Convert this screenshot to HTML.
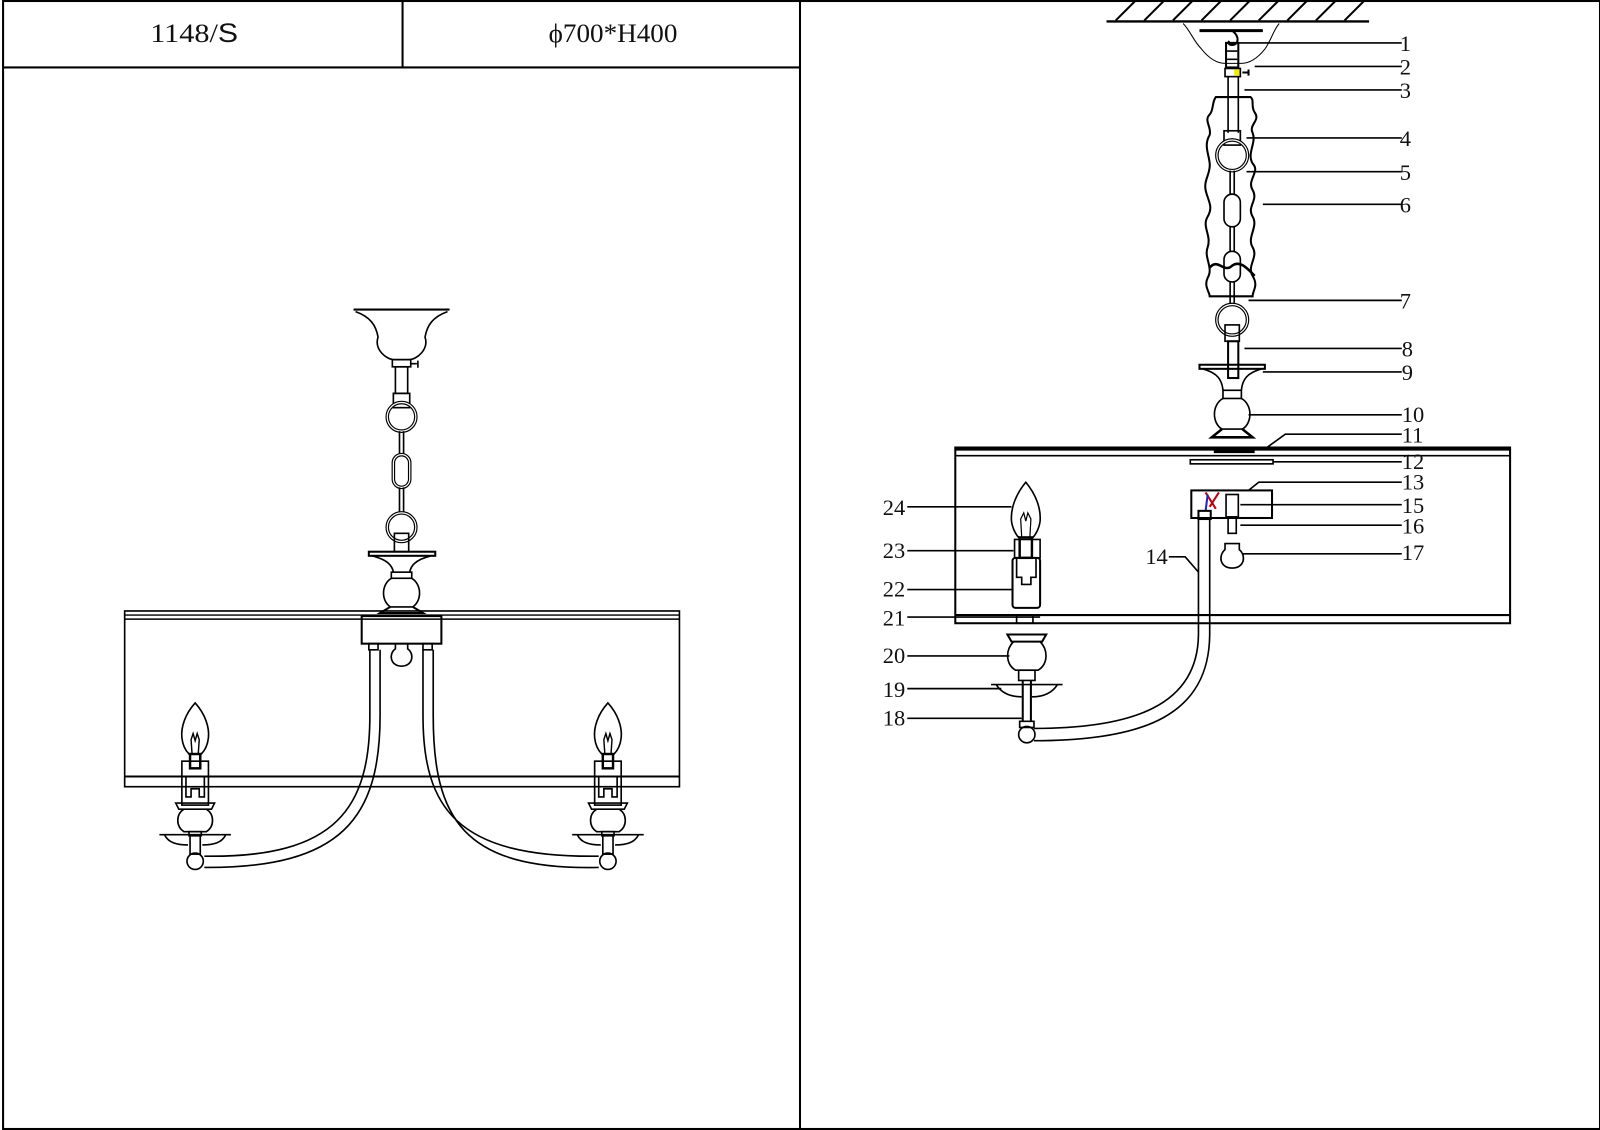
<!DOCTYPE html>
<html><head><meta charset="utf-8"><style>
html,body{margin:0;padding:0;background:#fff}
svg{display:block}
text{font-family:"Liberation Serif",serif;fill:#111}
</style></head><body>
<svg width="1600" height="1130" viewBox="0 0 1566 1106" xmlns="http://www.w3.org/2000/svg">
<defs>
<g id="candle" fill="none" stroke="#000" stroke-width="1.6">
 <path d="M0,-74 C-10,-63 -14,-50 -13,-40 C-12,-31 -8,-26 -6,-24 L6,-24 C8,-26 12,-31 13,-40 C14,-50 10,-63 0,-74 Z"/>
 <path d="M-3,-24 L-4,-38 L-2,-44 L0,-37 L2,-44 L4,-38 L3,-24" stroke-width="1.4"/>
 <rect x="-5" y="-24" width="10" height="14" stroke-width="2.4"/>
 <rect x="-13" y="-17" width="26" height="43"/>
 <path d="M-9,-2 L-9,18 L-4,18 L-4,10 L4,10 L4,18 L9,18 L9,-2"/>
 <path d="M-19,24 L19,24 L16,30 L-16,30 Z"/>
 <path d="M-11,30 C-19,35 -19,47 -11,52 L11,52 C19,47 19,35 11,30"/>
 <rect x="-6" y="52" width="12" height="4"/>
 <path d="M-35,55 L35,55 M-30,55 C-26,63 -18,65 -7,65 M30,55 C26,63 18,65 7,65"/>
 <rect x="-5" y="56" width="10" height="18"/>
 <circle cx="0" cy="81" r="8"/>
</g>
</defs>
<g fill="none" stroke="#000" stroke-width="2">
 <rect x="3" y="1" width="1563" height="1104"/>
 <line x1="783" y1="1" x2="783" y2="1105"/>
 <line x1="3" y1="66" x2="783" y2="66"/>
 <line x1="394" y1="1" x2="394" y2="66"/>
</g>
<text x="190" y="41" font-size="26" text-anchor="middle" textLength="86" lengthAdjust="spacingAndGlyphs">1148/<tspan font-family="Liberation Sans">S</tspan></text>
<text x="600" y="41" font-size="26" text-anchor="middle" textLength="126" lengthAdjust="spacingAndGlyphs">ϕ700*H400</text>

<!-- LEFT DRAWING -->
<g fill="none" stroke="#000" stroke-width="1.6">
 <line x1="346" y1="303" x2="440" y2="303" stroke-width="2"/>
 <path d="M348,305 C362,310 368,318 370,330 C366,342 378,352 386,352 L400,352 C408,352 420,342 416,330 C418,318 424,310 438,305"/>
 <rect x="384" y="352" width="18" height="7"/>
 <path d="M402,356 L408,356 M409,353 L409,360"/>
 <rect x="387" y="359" width="12" height="26"/>
 <rect x="385" y="385" width="16" height="14"/>
 <circle cx="393" cy="408" r="14" stroke-width="3.5"/>
 <circle cx="393" cy="408" r="14" stroke="#fff" stroke-width="1.2"/>
 <line x1="391" y1="422" x2="391" y2="446"/><line x1="395" y1="422" x2="395" y2="446"/>
 <rect x="385" y="445" width="16" height="32" rx="8" stroke-width="3.5"/>
 <rect x="385" y="445" width="16" height="32" rx="8" stroke="#fff" stroke-width="1.2"/>
 <line x1="391" y1="477" x2="391" y2="503"/><line x1="395" y1="477" x2="395" y2="503"/>
 <circle cx="393" cy="516" r="14" stroke-width="3.5"/>
 <circle cx="393" cy="516" r="14" stroke="#fff" stroke-width="1.2"/>
 <rect x="386" y="522" width="14" height="18"/>
 <rect x="361" y="540" width="65" height="4" stroke-width="2"/>
 <path d="M364,544 C380,548 384,554 385,560 M422,544 C406,548 402,554 401,560"/>
 <rect x="383" y="560" width="20" height="6"/>
 <path d="M383,566 C373,572 373,588 382,594 L404,594 C413,588 413,572 403,566"/>
 <path d="M382,594 L372,600 L414,600 L404,594" stroke-width="2"/>
 <rect x="122" y="598" width="543" height="172"/>
 <line x1="122" y1="602" x2="665" y2="602" stroke-width="1.4"/>
 <line x1="122" y1="606" x2="665" y2="606" stroke-width="1.4"/>
 <line x1="122" y1="760" x2="665" y2="760" stroke-width="2"/>
 <rect x="354" y="603" width="78" height="27" stroke-width="2"/>
 <rect x="361" y="630" width="9" height="6"/><rect x="414" y="630" width="9" height="6"/>
 <path d="M387,630 L387,635 C380,640 382,652 393,652 C404,652 406,640 399,635 L399,630"/>
 <path d="M362,636 L362,700 C362,790 330,840 200,838"/>
 <path d="M372,636 L372,700 C372,800 335,850 200,849"/>
 <path d="M414,636 L414,700 C414,790 446,840 586,838"/>
 <path d="M424,636 L424,700 C424,800 452,852 586,849"/>
</g>
<use href="#candle" x="191" y="762"/>
<use href="#candle" x="595" y="762"/>

<!-- RIGHT DRAWING -->
<g fill="none" stroke="#000" stroke-width="1.6">
 <line x1="1083" y1="21" x2="1340" y2="21" stroke-width="2.4"/>
 <path d="M1092,20 L1112,0 M1120,20 L1140,0 M1148,20 L1168,0 M1176,20 L1196,0 M1204,20 L1224,0 M1232,20 L1252,0 M1260,20 L1280,0 M1288,20 L1308,0 M1316,20 L1336,0" stroke-width="2"/>
 <path d="M1158,23 C1165,30 1168,40 1176,48 C1184,58 1192,62 1199,62 L1215,62 C1222,62 1230,58 1238,48 C1244,40 1246,30 1252,23" stroke-width="1"/>
 <line x1="1174" y1="30" x2="1236" y2="30" stroke-width="3"/>
 <path d="M1206,30 C1214,36 1212,44 1206,44 C1202,44 1202,42 1203,40" stroke-width="2"/>
 <rect x="1200" y="42" width="12" height="24" stroke-width="2"/>
 <path d="M1201,50 L1211,50 M1201,58 L1211,58"/>
 <rect x="1199" y="67" width="15" height="8"/>
 <rect x="1208" y="68" width="5" height="6" fill="#ee0" stroke="none"/>
 <path d="M1216,71 L1222,71 M1222,68 L1222,74" stroke-width="2"/>
 <line x1="1202" y1="75" x2="1202" y2="130"/><line x1="1212" y1="75" x2="1212" y2="130"/>
 <path d="M1190,95 C1186,100 1188,108 1184,112 C1178,118 1186,124 1184,132 C1178,142 1183,150 1184,160 C1185,170 1178,176 1180,186 C1182,196 1188,202 1182,212 C1176,222 1186,230 1182,242 C1178,252 1188,262 1182,272 C1178,280 1184,286 1184,290 L1226,290 C1226,284 1232,280 1226,270 C1220,260 1232,252 1226,242 C1220,232 1232,222 1226,212 C1220,202 1232,196 1226,186 C1220,176 1234,168 1226,160 C1220,150 1230,140 1226,130 C1222,122 1234,118 1228,110 C1224,104 1228,98 1224,95 Z" stroke-width="2"/>
 <path d="M1184,262 C1192,252 1198,268 1206,260 C1214,254 1222,264 1228,270" stroke-width="2.5"/>
 <rect x="1198" y="128" width="16" height="14"/>
 <circle cx="1206" cy="152" r="15" stroke-width="3.5"/>
 <circle cx="1206" cy="152" r="15" stroke="#fff" stroke-width="1.2"/>
 <line x1="1204" y1="167" x2="1204" y2="190"/><line x1="1208" y1="167" x2="1208" y2="190"/>
 <rect x="1198" y="190" width="16" height="32" rx="8"/>
 <line x1="1204" y1="222" x2="1204" y2="246"/><line x1="1208" y1="222" x2="1208" y2="246"/>
 <rect x="1198" y="246" width="16" height="30" rx="8"/>
 <line x1="1204" y1="276" x2="1204" y2="298"/><line x1="1208" y1="276" x2="1208" y2="298"/>
 <circle cx="1206" cy="313" r="15" stroke-width="3.5"/>
 <circle cx="1206" cy="313" r="15" stroke="#fff" stroke-width="1.2"/>
 <rect x="1199" y="318" width="14" height="16"/>
 <rect x="1202" y="334" width="10" height="36" stroke-width="2"/>
 <rect x="1174" y="357" width="64" height="4" stroke-width="2"/>
 <path d="M1177,361 C1192,365 1196,372 1197,382 M1235,361 C1220,365 1216,372 1215,382"/>
 <rect x="1197" y="382" width="18" height="8"/>
 <path d="M1197,390 C1186,396 1186,414 1196,420 L1216,420 C1226,414 1226,396 1215,390"/>
 <path d="M1196,420 L1186,428 L1226,428 L1216,420" stroke-width="2.5"/>
 <rect x="935" y="438" width="543" height="172" stroke-width="2"/>
 <line x1="935" y1="439" x2="1478" y2="439" stroke-width="4"/>
 <line x1="935" y1="446" x2="1478" y2="446"/>
 <line x1="935" y1="602" x2="1478" y2="602" stroke-width="2"/>
 <rect x="1165" y="450" width="81" height="4" stroke-width="1.6"/>
 <line x1="1188" y1="442" x2="1228" y2="442" stroke-width="3"/>
 <rect x="1166" y="480" width="79" height="27" stroke-width="2"/>
 <path d="M1180,482 L1190,498 M1193,482 L1184,496" stroke="#b01" stroke-width="2"/>
 <path d="M1182,484 L1180,500" stroke="#22c" stroke-width="2"/>
 <rect x="1200" y="484" width="12" height="22"/>
 <rect x="1202" y="506" width="8" height="16"/>
 <rect x="1173" y="500" width="12" height="8" stroke-width="2"/>
 <path d="M1173,508 L1173,620 C1173,690 1110,713 1012,713"/>
 <path d="M1184,508 L1184,620 C1184,700 1120,725 1012,725"/>
 <path d="M1199,532 L1213,532 L1213,538 C1220,544 1218,556 1206,556 C1194,556 1192,544 1199,538 Z"/>
 <path d="M1004,472 C994,484 989,498 990,510 C991,518 995,524 997,526 L1011,526 C1013,524 1017,518 1018,510 C1019,498 1014,484 1004,472 Z"/>
 <path d="M1000,526 L999,508 L1002,502 L1004,510 L1006,502 L1009,508 L1008,526" stroke-width="1.2"/>
 <rect x="998" y="526" width="12" height="20" stroke-width="2.4"/>
 <rect x="993" y="528" width="25" height="18"/>
 <rect x="991" y="546" width="27" height="49" rx="3" stroke-width="2"/>
 <path d="M995,546 L995,565 L1000,565 L1000,572 L1009,572 L1009,565 L1014,565 L1014,546"/>
 <rect x="995" y="602" width="16" height="8"/>
 <path d="M986,621 L1024,621 L1020,628 L990,628 Z" stroke-width="2"/>
 <path d="M992,628 C984,636 984,650 994,656 L1016,656 C1026,650 1026,636 1018,628"/>
 <rect x="997" y="656" width="16" height="10"/>
 <path d="M970,670 L1040,670 M975,670 C980,678 988,682 1000,682 M1035,670 C1030,678 1022,682 1010,682" stroke-width="1.6"/>
 <line x1="1001" y1="666" x2="1001" y2="706" stroke-width="2"/><line x1="1009" y1="666" x2="1009" y2="706" stroke-width="2"/>
 <rect x="998" y="706" width="14" height="6"/>
 <circle cx="1005" cy="719" r="8"/>
</g>
<g stroke="#000" stroke-width="1.6" fill="none">
 <line x1="1210" y1="42" x2="1372" y2="42"/>
 <line x1="1228" y1="65" x2="1372" y2="65"/>
 <line x1="1218" y1="88" x2="1372" y2="88"/>
 <line x1="1220" y1="135" x2="1372" y2="135"/>
 <line x1="1220" y1="168" x2="1372" y2="168"/>
 <line x1="1236" y1="200" x2="1372" y2="200"/>
 <line x1="1222" y1="294" x2="1372" y2="294"/>
 <line x1="1218" y1="341" x2="1372" y2="341"/>
 <line x1="1236" y1="364" x2="1372" y2="364"/>
 <line x1="1222" y1="406" x2="1372" y2="406"/>
 <path d="M1240,438 L1258,425 L1372,425"/>
 <line x1="1246" y1="452" x2="1372" y2="452"/>
 <path d="M1222,480 L1232,472 L1372,472"/>
 <line x1="1214" y1="494" x2="1372" y2="494"/>
 <line x1="1214" y1="514" x2="1372" y2="514"/>
 <line x1="1216" y1="542" x2="1372" y2="542"/>
 <path d="M1144,545 L1160,545 L1173,560"/>
 <line x1="888" y1="496" x2="990" y2="496"/>
 <line x1="888" y1="539" x2="992" y2="539"/>
 <line x1="888" y1="577" x2="992" y2="577"/>
 <line x1="888" y1="604" x2="1018" y2="604"/>
 <line x1="888" y1="642" x2="988" y2="642"/>
 <line x1="888" y1="674" x2="980" y2="674"/>
 <line x1="888" y1="703" x2="1000" y2="703"/>
</g>
<g font-size="22">
 <text x="1370" y="50">1</text><text x="1370" y="73">2</text><text x="1370" y="96">3</text>
 <text x="1370" y="143">4</text><text x="1370" y="176">5</text><text x="1370" y="208">6</text>
 <text x="1370" y="302">7</text><text x="1372" y="349">8</text><text x="1372" y="372">9</text>
 <text x="1372" y="413">10</text><text x="1372" y="433">11</text><text x="1372" y="459">12</text>
 <text x="1372" y="479">13</text><text x="1372" y="502">15</text><text x="1372" y="522">16</text>
 <text x="1372" y="548">17</text><text x="1121" y="552">14</text>
 <text x="864" y="504">24</text><text x="864" y="546">23</text><text x="864" y="584">22</text>
 <text x="864" y="612">21</text><text x="864" y="649">20</text><text x="864" y="682">19</text>
 <text x="864" y="710">18</text>
</g>
</svg>
</body></html>
